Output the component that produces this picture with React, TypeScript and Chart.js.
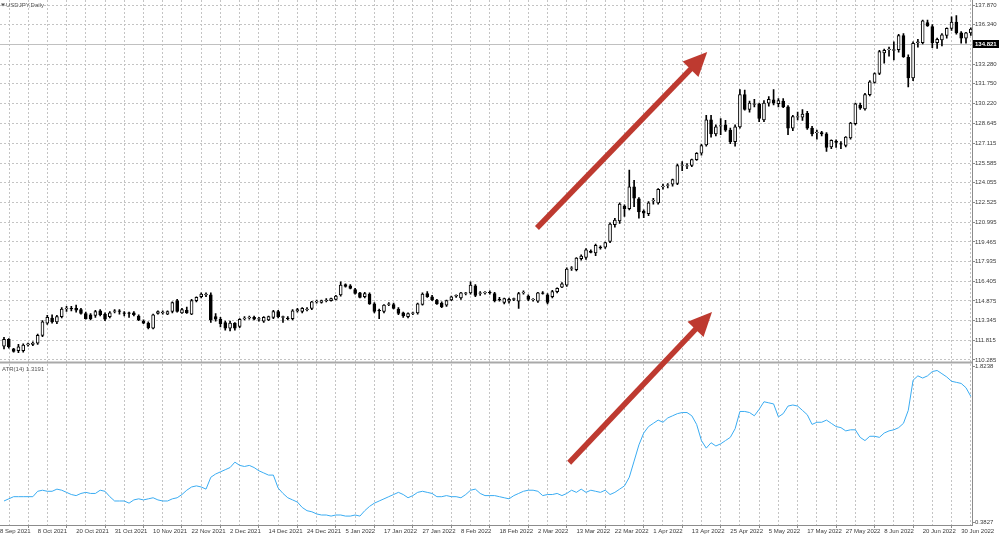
import React, { useEffect, useRef } from 'react';
import { Chart, registerables } from 'chart.js';

Chart.register(...registerables);

// ---------------- DATA ----------------
const opens = [
  111.35, 111.90, 111.15, 111.00, 111.00, 111.45, 111.50, 111.60, 112.20, 113.15,
  113.55, 113.25, 113.65, 114.25, 114.30, 114.30, 114.20, 113.90, 113.80, 113.75,
  114.10, 113.85, 113.65, 114.05, 114.10, 113.95, 113.95, 113.95, 113.70, 113.30,
  113.15, 112.75, 113.90, 113.95, 113.85, 114.05, 114.90, 113.95, 114.15, 113.85,
  114.90, 115.20, 115.35, 115.35, 113.65, 113.45, 113.20, 112.75, 113.15, 112.90,
  113.50, 113.55, 113.60, 113.45, 113.30, 113.40, 113.60, 114.05, 113.60, 113.55,
  113.50, 114.10, 114.05, 114.20, 114.30, 114.80, 114.75, 114.90, 114.90, 115.00,
  115.35, 116.15, 116.05, 115.75, 115.50, 115.20, 115.40, 114.65, 114.15, 114.05,
  114.60, 114.60, 114.25, 113.95, 113.65, 113.90, 113.95, 114.60, 115.45, 115.20,
  114.95, 114.70, 114.55, 114.95, 115.25, 115.10, 115.45, 115.50, 116.05, 115.45,
  115.50, 115.55, 115.45, 115.00, 114.75, 114.85, 115.00, 114.85, 115.50, 115.25,
  114.95, 114.85, 115.50, 115.35, 115.20, 115.60, 115.95, 116.10, 117.40, 117.30,
  118.15, 118.25, 118.75, 118.60, 119.05, 119.05, 119.50, 120.80, 121.10, 122.25,
  122.05, 123.75, 122.80, 121.85, 121.65, 122.65, 122.50, 123.75, 123.85, 123.95,
  124.00, 125.40, 125.35, 125.40, 125.85, 126.35, 127.00, 128.95, 127.85, 128.45,
  128.55, 128.15, 127.25, 128.40, 130.90, 129.75, 130.15, 130.15, 128.95, 130.25,
  130.50, 130.20, 130.40, 129.95, 128.30, 129.15, 129.15, 129.45, 128.30, 127.95,
  127.95, 127.85, 126.85, 127.30, 127.10, 126.95, 127.55, 128.65, 130.10, 129.80,
  130.90, 131.85, 132.55, 134.15, 134.40, 134.35, 134.40, 135.50, 133.80, 132.20,
  134.95, 134.95, 136.50, 136.20, 134.95, 135.15, 135.50, 136.05, 136.55, 135.70,
  135.30, 135.70,
];
const highs = [
  112.05, 111.95, 111.20, 111.50, 111.55, 111.60, 111.70, 112.30, 113.35, 113.75,
  113.80, 113.75, 114.35, 114.45, 114.45, 114.55, 114.30, 114.00, 113.90, 114.15,
  114.20, 113.95, 114.05, 114.20, 114.20, 114.05, 114.00, 114.05, 113.80, 113.40,
  113.25, 113.85, 114.10, 114.10, 114.10, 114.80, 115.00, 114.30, 114.40, 115.00,
  115.20, 115.50, 115.50, 115.50, 113.90, 113.60, 113.30, 113.30, 113.20, 113.50,
  113.65, 113.70, 113.70, 113.60, 113.65, 113.70, 114.15, 114.15, 113.70, 113.65,
  114.20, 114.30, 114.35, 114.35, 114.85, 114.95, 114.95, 115.05, 115.10, 115.30,
  116.35, 116.20, 116.15, 115.85, 115.55, 115.55, 115.50, 114.75, 114.25, 114.60,
  114.75, 114.70, 114.35, 114.00, 113.95, 114.00, 114.70, 115.50, 115.60, 115.30,
  115.00, 114.80, 114.95, 115.25, 115.35, 115.55, 115.55, 116.35, 116.15, 115.60,
  115.60, 115.65, 115.55, 115.15, 115.10, 115.10, 115.10, 115.55, 115.65, 115.35,
  115.05, 115.55, 115.60, 115.45, 115.70, 115.90, 116.30, 117.45, 117.55, 118.25,
  118.45, 118.95, 118.85, 119.30, 119.15, 119.45, 120.95, 121.30, 122.50, 122.35,
  125.05, 124.25, 122.90, 121.95, 122.60, 122.85, 123.60, 123.95, 124.00, 124.35,
  125.50, 125.70, 125.55, 125.90, 126.40, 127.05, 129.30, 129.30, 128.55, 129.05,
  128.90, 128.30, 128.55, 131.30, 131.25, 130.40, 130.55, 130.25, 130.45, 130.75,
  131.30, 130.60, 130.60, 130.05, 129.30, 129.55, 129.75, 129.60, 128.45, 128.15,
  128.05, 127.95, 127.40, 127.40, 127.25, 127.65, 128.75, 130.25, 130.25, 131.00,
  132.00, 132.60, 134.35, 134.45, 134.60, 135.00, 135.60, 135.65, 134.00, 135.00,
  135.20, 136.70, 136.70, 136.35, 135.30, 135.65, 136.10, 136.95, 137.05, 135.80,
  135.75, 136.10,
];
const lows = [
  111.15, 111.20, 110.90, 110.85, 110.90, 111.35, 111.40, 111.50, 112.10, 113.05,
  113.15, 113.10, 113.55, 114.05, 114.10, 114.00, 113.85, 113.45, 113.40, 113.60,
  113.70, 113.35, 113.55, 113.95, 113.85, 113.70, 113.60, 113.70, 113.35, 113.10,
  112.70, 112.70, 113.85, 113.85, 113.80, 113.95, 114.00, 113.90, 113.90, 113.80,
  114.80, 115.10, 115.20, 113.20, 113.30, 112.85, 112.60, 112.55, 112.60, 112.80,
  113.40, 113.45, 113.40, 113.30, 113.20, 113.35, 113.50, 113.55, 113.20, 113.40,
  113.40, 114.00, 113.95, 114.10, 114.20, 114.70, 114.70, 114.80, 114.85, 114.95,
  115.25, 115.95, 115.80, 115.40, 115.10, 115.10, 114.60, 113.95, 113.50, 113.95,
  114.50, 114.25, 113.80, 113.60, 113.55, 113.80, 113.85, 114.55, 115.15, 114.90,
  114.60, 114.35, 114.45, 114.90, 115.15, 115.00, 115.35, 115.40, 115.20, 115.30,
  115.40, 115.40, 114.80, 114.85, 114.65, 114.70, 114.90, 114.30, 115.40, 114.90,
  114.85, 114.75, 115.40, 114.65, 115.10, 115.50, 115.90, 116.00, 117.25, 117.20,
  118.05, 118.10, 118.60, 118.40, 118.90, 118.95, 119.40, 120.60, 120.90, 121.45,
  121.95, 122.20, 121.30, 121.35, 121.50, 122.40, 122.40, 123.55, 123.65, 123.80,
  123.90, 125.00, 125.15, 125.30, 125.80, 126.20, 126.90, 127.60, 127.70, 127.80,
  128.05, 127.10, 126.90, 128.30, 129.70, 129.55, 129.95, 128.80, 128.80, 130.00,
  130.10, 129.95, 129.90, 127.80, 128.10, 128.95, 128.90, 128.20, 127.70, 127.45,
  127.70, 126.50, 126.70, 126.80, 126.70, 126.85, 127.45, 128.55, 129.75, 129.70,
  130.80, 131.80, 132.45, 133.35, 133.90, 133.60, 134.20, 133.80, 131.50, 132.00,
  134.60, 134.85, 136.20, 134.55, 134.50, 134.70, 135.30, 135.90, 135.60, 134.90,
  134.90, 135.50,
];
const closes = [
  111.90, 111.30, 110.95, 111.30, 111.45, 111.55, 111.60, 112.20, 113.25, 113.60,
  113.25, 113.65, 114.25, 114.30, 114.25, 114.15, 113.90, 113.50, 113.50, 114.05,
  113.80, 113.45, 113.95, 114.10, 114.05, 113.90, 113.90, 113.80, 113.40, 113.15,
  112.80, 113.80, 114.05, 114.00, 114.05, 114.75, 114.05, 114.20, 113.95, 114.90,
  115.15, 115.40, 115.40, 113.40, 113.45, 113.10, 112.75, 113.15, 112.75, 113.45,
  113.55, 113.60, 113.45, 113.50, 113.60, 113.65, 114.05, 113.65, 113.65, 113.50,
  114.10, 114.20, 114.30, 114.25, 114.80, 114.85, 114.90, 114.95, 115.05, 115.25,
  116.10, 116.00, 115.85, 115.45, 115.15, 115.45, 114.65, 114.05, 114.10, 114.55,
  114.65, 114.30, 113.90, 113.70, 113.90, 113.95, 114.65, 115.40, 115.20, 114.95,
  114.65, 114.40, 114.90, 115.20, 115.30, 115.50, 115.50, 116.10, 115.30, 115.50,
  115.55, 115.50, 114.90, 114.95, 115.05, 115.00, 115.05, 115.45, 115.55, 115.00,
  115.00, 115.50, 115.45, 114.75, 115.60, 115.85, 116.20, 117.35, 117.45, 118.20,
  118.35, 118.85, 118.65, 119.20, 119.00, 119.40, 120.85, 121.15, 122.40, 122.05,
  123.75, 122.85, 121.80, 121.70, 122.50, 122.70, 123.55, 123.80, 123.90, 124.30,
  125.40, 125.45, 125.40, 125.85, 126.35, 126.95, 128.95, 127.85, 128.40, 128.50,
  128.15, 127.25, 128.40, 130.90, 129.75, 130.25, 130.20, 129.05, 130.25, 130.55,
  130.25, 130.45, 129.95, 128.30, 129.20, 129.20, 129.40, 128.30, 127.85, 128.00,
  127.85, 126.80, 127.35, 127.20, 127.05, 127.60, 128.70, 130.20, 129.85, 130.90,
  131.90, 132.55, 134.25, 134.35, 134.45, 134.40, 135.50, 133.85, 132.20, 134.90,
  135.00, 136.65, 136.25, 134.95, 135.20, 135.55, 136.05, 136.55, 135.70, 135.30,
  135.70, 136.00,
];
const atrValues = [
  0.58, 0.60, 0.62, 0.62, 0.62, 0.62, 0.62, 0.67, 0.68, 0.67,
  0.67, 0.69, 0.68, 0.66, 0.64, 0.63, 0.65, 0.66, 0.65, 0.65,
  0.68, 0.67, 0.62, 0.58, 0.58, 0.58, 0.56, 0.59, 0.60, 0.59,
  0.60, 0.61, 0.59, 0.58, 0.58, 0.60, 0.61, 0.64, 0.68, 0.71,
  0.72, 0.71, 0.69, 0.80, 0.83, 0.85, 0.87, 0.89, 0.94, 0.91,
  0.90, 0.91, 0.89, 0.86, 0.84, 0.82, 0.82, 0.70, 0.65, 0.61,
  0.59, 0.57, 0.52, 0.49, 0.48, 0.46, 0.45, 0.45, 0.44, 0.45,
  0.45, 0.44, 0.44, 0.45, 0.44, 0.49, 0.53, 0.56, 0.58, 0.60,
  0.62, 0.64, 0.66, 0.64, 0.61, 0.63, 0.66, 0.67, 0.66, 0.65,
  0.62, 0.62, 0.63, 0.62, 0.62, 0.61, 0.64, 0.68, 0.69, 0.65,
  0.63, 0.63, 0.63, 0.62, 0.61, 0.60, 0.63, 0.65, 0.67, 0.68,
  0.68, 0.67, 0.63, 0.64, 0.64, 0.65, 0.63, 0.65, 0.68, 0.66,
  0.69, 0.66, 0.68, 0.67, 0.66, 0.68, 0.64, 0.66, 0.69, 0.72,
  0.80, 0.95, 1.10, 1.21, 1.27, 1.30, 1.33, 1.31, 1.35, 1.37,
  1.39, 1.40, 1.40, 1.37, 1.29, 1.14, 1.07, 1.12, 1.09, 1.11,
  1.14, 1.17, 1.25, 1.41, 1.41, 1.40, 1.37, 1.43, 1.50, 1.49,
  1.48, 1.36, 1.39, 1.46, 1.47, 1.46, 1.42, 1.38, 1.29, 1.31,
  1.31, 1.33, 1.30, 1.27, 1.26, 1.23, 1.24, 1.24, 1.17, 1.14,
  1.18, 1.18, 1.17, 1.21, 1.23, 1.24, 1.26, 1.30, 1.42, 1.70,
  1.74, 1.72, 1.74, 1.78, 1.79, 1.76, 1.73, 1.69, 1.68, 1.67,
  1.63, 1.55,
];
const priceTicks = [
  110.285, 111.815, 113.345, 114.875, 116.405, 117.935, 119.465, 120.995, 122.525,
  124.055, 125.585, 127.115, 128.645, 130.22, 131.75, 133.28, 136.34, 137.87,
];
const atrTicks = [0.3827, 1.8238];
const firstDateLabel = '8 Sep 2021';
const dateLabels = [
  '8 Oct 2021', '20 Oct 2021', '31 Oct 2021', '10 Nov 2021', '22 Nov 2021', '2 Dec 2021',
  '14 Dec 2021', '24 Dec 2021', '5 Jan 2022', '17 Jan 2022', '27 Jan 2022', '8 Feb 2022',
  '18 Feb 2022', '2 Mar 2022', '13 Mar 2022', '22 Mar 2022', '1 Apr 2022', '13 Apr 2022',
  '25 Apr 2022', '5 May 2022', '17 May 2022', '27 May 2022', '8 Jun 2022', '20 Jun 2022',
  '30 Jun 2022',
];
const currentPrice = 134.821;
const symbolTitle = 'USDJPY,Daily';
const atrTitle = 'ATR(14) 1.3191';
// annotation arrows: [barIndex, price] on the price scale
const arrowFrom1 = [110.8, 120.54];
const arrowTo1 = [146.2, 134.22];
const arrowFrom2 = [117.5, 102.3];
const arrowTo2 = [147.2, 114.02];

// ---------------- LAYOUT ----------------
const X_MIN = -0.8316;
const X_MAX = 201.25;
const FONT = { family: '"Liberation Sans", Arial, sans-serif', size: 6 };
const TEXT = '#3a3a3a';
const GRID = '#c4c4c4';
const AXIS = '#8c8c8c';

const labelByTick = new Map<number, string>();
labelByTick.set(X_MIN, firstDateLabel);
dateLabels.forEach((d, k) => labelByTick.set(7 + 8 * k, d));
const xTickValues: number[] = [X_MIN];
for (let v = 3; v <= 199; v += 4) xTickValues.push(v);

function drawArrow(ctx: CanvasRenderingContext2D, x1: number, y1: number, x2: number, y2: number) {
  const ang = Math.atan2(y2 - y1, x2 - x1);
  const headLen = 24;
  const headHalf = 11;
  const cx = Math.cos(ang), sy = Math.sin(ang);
  const bx = x2 - headLen * cx, by = y2 - headLen * sy;
  ctx.save();
  ctx.strokeStyle = '#be3a30';
  ctx.fillStyle = '#be3a30';
  ctx.lineWidth = 5.5;
  ctx.beginPath();
  ctx.moveTo(x1, y1);
  ctx.lineTo(bx + 4 * cx, by + 4 * sy);
  ctx.stroke();
  ctx.beginPath();
  ctx.moveTo(x2, y2);
  ctx.lineTo(bx - headHalf * sy, by + headHalf * cx);
  ctx.lineTo(bx + headHalf * sy, by - headHalf * cx);
  ctx.closePath();
  ctx.fill();
  ctx.restore();
}

const overlayPlugin = {
  id: 'mtOverlay',
  beforeDatasetsDraw(chart: any) {
    const { ctx, chartArea, scales } = chart;
    const y = Math.round(scales.y.getPixelForValue(currentPrice)) + 0.5;
    ctx.save();
    ctx.strokeStyle = '#c0c0c0';
    ctx.lineWidth = 1;
    ctx.beginPath();
    ctx.moveTo(chartArea.left, y);
    ctx.lineTo(chartArea.right, y);
    ctx.stroke();
    ctx.restore();
  },
  afterDraw(chart: any) {
    const { ctx, chartArea, scales } = chart;
    const ys = scales.y;
    const xs = scales.x;
    // separator between panes
    ctx.save();
    ctx.fillStyle = '#a9a9a9';
    ctx.fillRect(chartArea.left, ys.bottom - 1, chartArea.right - chartArea.left, 2);
    ctx.restore();
    // arrows
    const p = (a: number[]) => [xs.getPixelForValue(a[0]), ys.getPixelForValue(a[1])];
    const a1 = p(arrowFrom1), b1 = p(arrowTo1), a2 = p(arrowFrom2), b2 = p(arrowTo2);
    drawArrow(ctx, a1[0], a1[1], b1[0], b1[1]);
    drawArrow(ctx, a2[0], a2[1], b2[0], b2[1]);
    // titles
    ctx.save();
    ctx.fillStyle = '#555';
    ctx.beginPath();
    ctx.moveTo(1, 3.5);
    ctx.lineTo(5, 3.5);
    ctx.lineTo(3, 6.5);
    ctx.closePath();
    ctx.fill();
    ctx.font = '6px "Liberation Sans", Arial, sans-serif';
    ctx.textBaseline = 'middle';
    ctx.textAlign = 'left';
    ctx.fillText(symbolTitle, 6, 5);
    ctx.fillText(atrTitle, 2, ys.bottom + 7);
    // current price marker
    const py = Math.round(ys.getPixelForValue(currentPrice));
    ctx.fillStyle = '#000';
    ctx.fillRect(chartArea.right + 1, py - 4, 26, 8);
    ctx.fillStyle = '#fff';
    ctx.font = 'bold 6px "Liberation Sans", Arial, sans-serif';
    ctx.fillText(currentPrice.toFixed(3), chartArea.right + 3, py + 0.5);
    ctx.restore();
  },
};

export default function App() {
  const canvasRef = useRef<HTMLCanvasElement | null>(null);

  useEffect(() => {
    const canvas = canvasRef.current;
    if (!canvas) return;
    const idx = opens.map((_, i) => i);
    const bodyColors = idx.map((i) => (closes[i] >= opens[i] ? '#ffffff' : '#000000'));

    const chart = new Chart(canvas, {
      type: 'bar',
      data: {
        datasets: [
          {
            type: 'line',
            label: 'ATR(14)',
            data: idx.map((i) => ({ x: i, y: atrValues[i] })),
            borderColor: '#3aacf2',
            borderWidth: 1,
            pointRadius: 0,
            tension: 0,
            xAxisID: 'x',
            yAxisID: 'y2',
            order: 0,
          } as any,
          {
            type: 'bar',
            label: 'body',
            data: idx.map((i) => ({ x: i, y: [opens[i], closes[i]] })),
            backgroundColor: bodyColors,
            borderColor: '#000000',
            borderWidth: 1,
            borderSkipped: false,
            barThickness: 3,
            grouped: false,
            xAxisID: 'x',
            yAxisID: 'y',
            order: 1,
          } as any,
          {
            type: 'bar',
            label: 'wick',
            data: idx.map((i) => ({ x: i, y: [lows[i], highs[i]] })),
            backgroundColor: '#000000',
            borderWidth: 0,
            barThickness: 1,
            grouped: false,
            xAxisID: 'x',
            yAxisID: 'y',
            order: 2,
          } as any,
        ],
      },
      options: {
        responsive: false,
        animation: false,
        devicePixelRatio: 1,
        events: [],
        layout: { padding: 0 },
        plugins: { legend: { display: false }, tooltip: { enabled: false } },
        scales: {
          x: {
            type: 'linear',
            position: 'bottom',
            min: X_MIN,
            max: X_MAX,
            offset: false,
            afterBuildTicks: (s: any) => {
              s.ticks = xTickValues.map((v) => ({ value: v }));
            },
            afterFit: (s: any) => {
              s.height = 13;
              s.paddingLeft = 0;
              s.paddingRight = 0;
            },
            ticks: {
              autoSkip: false,
              maxRotation: 0,
              minRotation: 0,
              align: 'start',
              padding: 0,
              color: TEXT,
              font: FONT,
              callback: (v: any) => labelByTick.get(Number(v)) || '',
            },
            grid: {
              color: (c: any) => (c.tick && c.tick.value < 0 ? 'rgba(0,0,0,0)' : GRID),
              tickColor: (c: any) => (c.tick && labelByTick.has(c.tick.value) && c.tick.value > 0 ? AXIS : 'rgba(0,0,0,0)'),
              tickLength: 3,
              lineWidth: 1,
            },
            border: { display: true, color: AXIS, dash: [2, 2] },
          },
          y: {
            type: 'linear',
            position: 'right',
            stack: 'panes',
            stackWeight: 362.5,
            min: 110.09,
            max: 138.259,
            afterBuildTicks: (s: any) => {
              s.ticks = priceTicks.map((v) => ({ value: v }));
            },
            afterFit: (s: any) => {
              s.width = 28;
              s.paddingTop = 0;
              s.paddingBottom = 0;
            },
            ticks: {
              padding: 0,
              color: TEXT,
              font: FONT,
              callback: (v: any) => Number(v).toFixed(3),
            },
            grid: { color: GRID, tickColor: AXIS, tickLength: 3 },
            border: { display: true, color: AXIS, dash: [2, 2] },
          },
          y2: {
            type: 'linear',
            position: 'right',
            stack: 'panes',
            stackWeight: 162.5,
            min: 0.3574,
            max: 1.864,
            afterBuildTicks: (s: any) => {
              s.ticks = atrTicks.map((v) => ({ value: v }));
            },
            afterFit: (s: any) => {
              s.width = 28;
              s.paddingTop = 0;
              s.paddingBottom = 0;
            },
            ticks: {
              padding: 0,
              color: TEXT,
              font: FONT,
              callback: (v: any) => Number(v).toFixed(4),
            },
            grid: { drawOnChartArea: false, tickColor: AXIS, tickLength: 3 },
            border: { display: true, color: AXIS },
          },
        } as any,
      },
      plugins: [overlayPlugin],
    });

    return () => chart.destroy();
  }, []);

  return (
    <div style={{ position: 'fixed', left: 0, top: 0, width: 1000, height: 538, background: '#ffffff' }}>
      <canvas ref={canvasRef} width={1000} height={538} style={{ display: 'block' }} />
    </div>
  );
}
